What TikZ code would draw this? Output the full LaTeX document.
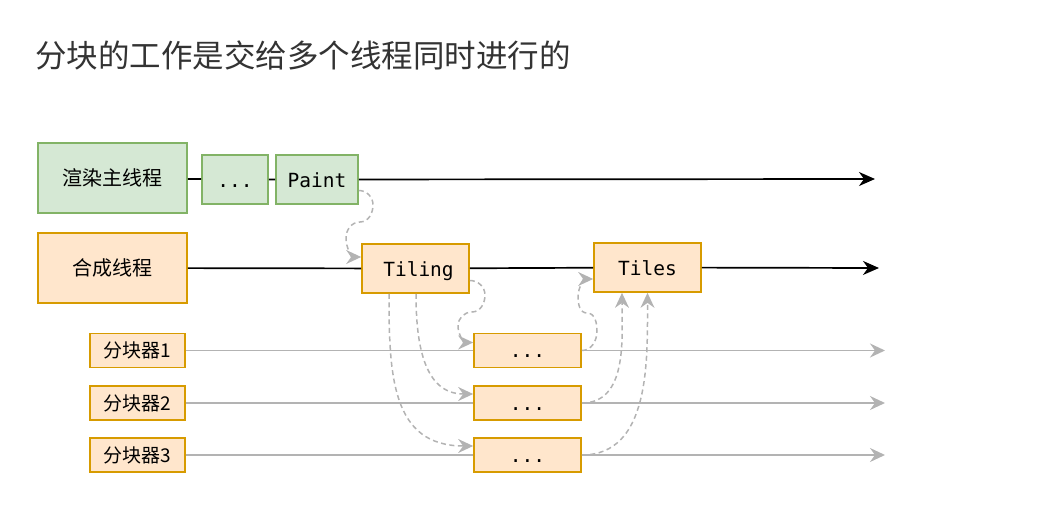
\documentclass[tikz,border=0pt]{standalone}
\usepackage{fontspec}
\setmainfont{Noto Sans CJK SC}
\newfontfamily\monofont{DejaVu Sans Mono}
\usetikzlibrary{arrows.meta}
\definecolor{greenfill}{HTML}{D5E8D4}
\definecolor{greenline}{HTML}{82B366}
\definecolor{orangefill}{HTML}{FFE6CC}
\definecolor{orangeline}{HTML}{D79B00}
\definecolor{flowgray}{HTML}{B3B3B3}
\definecolor{titlegray}{HTML}{333333}

\begin{document}
\begin{tikzpicture}[x=1pt,y=-1pt,
  greenbox/.style={draw=greenline,fill=greenfill,line width=1.7pt,inner sep=0pt},
  orangebox/.style={draw=orangeline,fill=orangefill,line width=1.7pt,inner sep=0pt},
  cjk/.style={font=\fontsize{20}{24}\selectfont},
  mono/.style={font=\monofont\fontsize{19.5}{23}\selectfont,text height=17pt,text depth=0.5pt},
  thread/.style={line width=1.7pt,black},
  threadarrow/.style={thread,-{Stealth[length=16pt,width=14pt,inset=5pt]}},
  subline/.style={line width=1.7pt,flowgray},
  subarrow/.style={subline,-{Stealth[length=15pt,width=14pt,inset=5pt]}},
  handoff/.style={line width=1.5pt,flowgray,dash pattern=on 5pt off 3.5pt,
    -{Stealth[length=15pt,width=14pt,inset=5pt]}}]
 \useasboundingbox (0,0) rectangle (1058,532);
 \node[anchor=west,inner sep=0pt,text=titlegray,font=\fontsize{31.5}{38}\selectfont] (title) at (35,55) {分块的工作是交给多个线程同时进行的};

 % main thread
 \node[greenbox,cjk,minimum width=149pt,minimum height=70pt] (main) at (112.5,178) {渲染主线程};
 \node[greenbox,mono,minimum width=66pt,minimum height=49pt] (dots) at (235,179.5) {...};
 \node[greenbox,mono,minimum width=82pt,minimum height=49pt] (paint) at (317,179.5) {Paint};
 \coordinate (mainend) at (875,179);
 \draw[thread] (main) -- (dots) -- (paint);
 \draw[threadarrow] (paint) -- (mainend);

 % compositor thread
 \node[orangebox,cjk,minimum width=149pt,minimum height=70pt] (comp) at (112.5,268) {合成线程};
 \node[orangebox,mono,minimum width=107pt,minimum height=49pt] (tiling) at (415.5,268.5) {\hspace{6pt}Tiling};
 \node[orangebox,mono,minimum width=107pt,minimum height=49pt] (tiles) at (647.5,267.5) {Tiles};
 \coordinate (compend) at (879,268);
 \draw[thread] (comp) -- (tiling) -- (tiles);
 \draw[threadarrow] (tiles) -- (compend);

 % tilers
 \foreach \i/\y in {1/350.5,2/403,3/455} {
  \node[orangebox,cjk,font=\fontsize{19}{23}\selectfont,minimum width=95pt,minimum height=34pt] (split\i) at (137.5,\y) {分块器\i};
  \node[orangebox,mono,text height=15pt,minimum width=107pt,minimum height=34pt] (work\i) at (527.5,\y) {...};
  \coordinate (end\i) at (885,\y);
  \draw[subline] (split\i) -- (work\i);
  \draw[subarrow] (work\i) -- (end\i);
 }

 % hand-offs
 \draw[handoff] ([yshift=-11pt]paint.east) to[out=0,in=90] (373,205) to[out=-90,in=0] (360,222)
   to[out=180,in=90] (346,238) to[out=-90,in=180] ([yshift=11.5pt]tiling.west);
 \draw[handoff] ([yshift=-12pt]tiling.east) to[out=0,in=90] (485,295) to[out=-90,in=0] (472,312)
   to[out=180,in=90] (458,326) to[out=-90,in=180] ([yshift=8pt]work1.west);
 \draw[handoff] ([xshift=-26.5pt]tiling.south) to[out=-90,in=180,looseness=1.2] ([yshift=9pt]work3.west);
 \draw[handoff] ([xshift=0.5pt]tiling.south) to[out=-90,in=180,looseness=1.1] ([yshift=9pt]work2.west);
 \draw[handoff] (work1.east) to[out=0,in=-90] (597,331) to[out=90,in=0] (587,313)
   to[out=180,in=-90] (578,297) to[out=90,in=180] ([yshift=-11.5pt]tiles.west);
 \draw[handoff] (work2.east) to[out=0,in=-90] ([xshift=-25.5pt]tiles.south);
 \draw[handoff] (work3.east) to[out=0,in=-90] (tiles.south);
\end{tikzpicture}
\end{document}
